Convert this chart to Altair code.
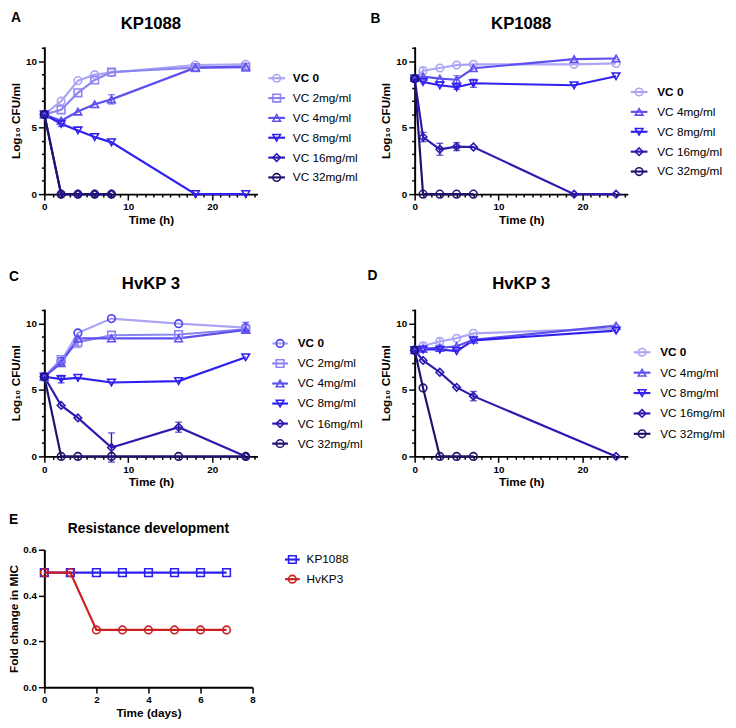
import altair as alt
import pandas as pd

FONT = "Liberation Sans"

# ---------------- series names / styles ----------------
SER6 = ["VC 0", "VC 2mg/ml", "VC 4mg/ml", "VC 8mg/ml", "VC 16mg/ml", "VC 32mg/ml"]
SER5 = ["VC 0", "VC 4mg/ml", "VC 8mg/ml", "VC 16mg/ml", "VC 32mg/ml"]
COL = {"VC 0": "#aba5f5", "VC 2mg/ml": "#8c84f2", "VC 4mg/ml": "#5d50ee",
       "VC 8mg/ml": "#3020f0", "VC 16mg/ml": "#2c1ab0", "VC 32mg/ml": "#1d136e"}
SHP = {"VC 0": "circle", "VC 2mg/ml": "square", "VC 4mg/ml": "triangle-up",
       "VC 8mg/ml": "triangle-down", "VC 16mg/ml": "diamond", "VC 32mg/ml": "circle"}
C_VC0_MARK = "#4a3ef0"

# ---------------- Panel A: KP1088 ----------------
A_time = [0, 2, 4, 6, 8, 18, 24]
A_vc0 = [6.0, 7.0, 8.55, 9.0, 9.15, 9.73, 9.78]
A_vc2 = [6.0, 6.35, 7.63, 8.6, 9.2, 9.53, 9.55]
A_vc4 = [6.0, 5.53, 6.22, 6.77, 7.14, 9.53, 9.6]
A_vc8 = [6.0, 5.3, 4.8, 4.3, 3.9, 0.0, 0.0]
A_vc16 = [6.0, 0.0, 0.0, 0.0, 0.0, None, None]
A_vc32 = [6.0, 0.0, 0.0, 0.0, 0.0, None, None]
A_err = {"VC 4mg/ml": [0, 0, 0, 0, 0.35, 0, 0], "VC 8mg/ml": [0, 0.2, 0, 0, 0, 0, 0]}

# ---------------- Panel B: KP1088 ----------------
B_time = [0, 1, 3, 5, 7, 19, 24]
B_vc0 = [8.7, 9.3, 9.5, 9.72, 9.78, 9.78, 9.85]
B_vc4 = [8.75, 8.85, 8.7, 8.62, 9.48, 10.17, 10.22]
B_vc8 = [8.7, 8.45, 8.2, 8.05, 8.35, 8.2, 8.88]
B_vc16 = [8.7, 4.3, 3.38, 3.58, 3.55, 0.0, 0.0]
B_vc32 = [8.7, 0.0, 0.0, 0.0, 0.0, None, None]
B_err = {"VC 0": [0, 0.25, 0, 0, 0, 0, 0], "VC 4mg/ml": [0, 0, 0, 0.3, 0, 0, 0],
         "VC 8mg/ml": [0, 0, 0, 0.15, 0.3, 0, 0], "VC 16mg/ml": [0, 0.35, 0.45, 0.3, 0, 0, 0]}

# ---------------- Panel C: HvKP 3 ----------------
C_time = [0, 2, 4, 8, 16, 24]
C_vc0 = [6.0, 7.17, 9.3, 10.38, 10.0, 9.7]
C_vc2 = [6.0, 7.3, 8.6, 9.13, 9.18, 9.58]
C_vc4 = [6.0, 7.03, 8.89, 8.89, 8.89, 9.53]
C_vc8 = [6.0, 5.82, 5.92, 5.57, 5.67, 7.47]
C_vc16 = [6.0, 3.84, 2.9, 0.67, 2.2, 0.0]
C_vc32 = [6.0, 0.0, 0.0, 0.0, 0.0, 0.0]
C_err = {"VC 0": [0, 0, 0, 0, 0, 0.4], "VC 2mg/ml": [0, 0, 0.4, 0, 0, 0],
         "VC 8mg/ml": [0, 0.28, 0, 0, 0, 0], "VC 16mg/ml": [0, 0, 0, 1.1, 0.38, 0]}

# ---------------- Panel D: HvKP 3 ----------------
D_time = [0, 1, 3, 5, 7, 24]
D_vc0 = [8.0, 8.32, 8.66, 8.9, 9.27, 9.65]
D_vc4 = [8.0, 8.12, 8.17, 8.3, 8.79, 9.85]
D_vc8 = [8.0, 8.05, 8.05, 7.93, 8.74, 9.48]
D_vc16 = [8.0, 7.23, 6.34, 5.2, 4.54, 0.0]
D_vc32 = [8.0, 5.16, 0.0, 0.0, 0.0, None]
D_err = {"VC 0": [0, 0.25, 0.25, 0, 0, 0], "VC 8mg/ml": [0, 0.2, 0, 0, 0, 0],
         "VC 16mg/ml": [0, 0, 0, 0, 0.35, 0]}

# ---------------- Panel E: resistance development ----------------
E_days = [0, 1, 2, 3, 4, 5, 6, 7]
E_kp1088 = [0.5, 0.5, 0.5, 0.5, 0.5, 0.5, 0.5, 0.5]
E_hvkp3 = [0.5, 0.5, 0.25, 0.25, 0.25, 0.25, 0.25, 0.25]
E_names = ["KP1088", "HvKP3"]
E_cols = ["#2b1ff0", "#cc1f1f"]
E_shapes = ["square", "circle"]

YTITLE = "Log\u2081\u2080 CFU/ml"


def make_df(times, names, values, errs):
    rows = []
    for name, vals in zip(names, values):
        es = errs.get(name, [0] * len(times))
        for t, v, e in zip(times, vals, es):
            if v is None:
                continue
            rows.append(dict(series=name, t=t, v=v, lo=v - e, hi=v + e, e=e))
    return pd.DataFrame(rows)


def make_axis(vals, major, title, fmt=None, tpad=3):
    kw = dict(values=vals, title=title, labelOverlap=False, labelFlush=False,
              grid=False, titlePadding=tpad, labelPadding=2)
    if major is not None:
        kw["labelExpr"] = f"datum.value % {major} === 0 ? datum.label : ''"
        kw["tickSize"] = {"condition": {"test": f"datum.value % {major} === 0", "value": 6}, "value": 3}
    else:
        kw["tickSize"] = 6
    if fmt:
        kw["format"] = fmt
    return alt.Axis(**kw)


def panel(letter, title, df, names, line_cols, mark_cols, shapes, W, H, xdom, ydom,
          xvals, yvals, xmajor, ymajor, xtitle, ytitle, leg_y, leg_x, letter_xy,
          title_y, bold_names, yfmt=None, title_size=17, msize=60, ytpad=3):
    xs = alt.Scale(domain=xdom, nice=False, zero=False)
    ys = alt.Scale(domain=ydom, nice=False, zero=False)
    xaxis = make_axis(xvals, xmajor, xtitle, tpad=3)
    yaxis = make_axis(yvals, ymajor, ytitle, fmt=yfmt, tpad=ytpad)
    X = alt.X("t:Q", scale=xs, axis=xaxis)
    Y = alt.Y("v:Q", scale=ys, axis=yaxis)
    stroke_enc = alt.Stroke("series:N", scale=alt.Scale(domain=names, range=line_cols), legend=None)
    color_enc = alt.Color("series:N", scale=alt.Scale(domain=names, range=mark_cols), legend=None)
    shape_enc = alt.Shape("series:N", scale=alt.Scale(domain=names, range=shapes), legend=None)

    lines = alt.Chart(df).mark_line(strokeWidth=2.2).encode(x=X, y=Y, stroke=stroke_enc, order="t:Q")
    pts = alt.Chart(df).mark_point(filled=False, size=msize, strokeWidth=1.6, opacity=1).encode(
        x=X, y=Y, color=color_enc, shape=shape_enc)
    data_layers = [lines]
    edf = df[df.e > 0]
    if len(edf):
        err = alt.Chart(edf).mark_errorbar(ticks={"size": 7}, thickness=1.4).encode(
            x=X, y=alt.Y("lo:Q", scale=ys, axis=yaxis), y2="hi:Q", color=color_enc)
        data_layers.append(err)
    data_layers.append(pts)

    n = len(names)
    ldf = pd.DataFrame({"series": names, "label": names, "i": list(range(n))})
    LY = alt.Y("i:Q", scale=alt.Scale(domain=[0, n - 1], range=leg_y), axis=None)
    x0, x1, xp, xt = leg_x
    lrule = alt.Chart(ldf).mark_rule(strokeWidth=2.2).encode(
        x=alt.value(x0), x2=alt.value(x1), y=LY, stroke=stroke_enc)
    lpt = alt.Chart(ldf).mark_point(filled=False, size=msize, strokeWidth=1.6, opacity=1).encode(
        x=alt.value(xp), y=LY, color=color_enc, shape=shape_enc)
    leg_layers = [lrule, lpt]
    normal = [s for s in names if s not in bold_names]
    leg_layers.append(alt.Chart(ldf).transform_filter(
        alt.FieldOneOfPredicate(field="series", oneOf=normal)).mark_text(
        align="left", baseline="middle", fontSize=12, font=FONT, color="black").encode(
        x=alt.value(xt), y=LY, text="label:N"))
    if bold_names:
        leg_layers.append(alt.Chart(ldf).transform_filter(
            alt.FieldOneOfPredicate(field="series", oneOf=bold_names)).mark_text(
            align="left", baseline="middle", fontSize=12, fontWeight="bold", font=FONT,
            color="black").encode(x=alt.value(xt), y=LY, text="label:N"))

    ann = alt.Chart(pd.DataFrame({"k": [0]}))
    lx, ly = letter_xy
    leg_layers.append(ann.mark_text(text=letter, align="left", baseline="top", fontSize=14,
                                    fontWeight="bold", font=FONT, color="black").encode(
        x=alt.value(lx), y=alt.value(ly)))
    leg_layers.append(ann.mark_text(text=title, align="center", baseline="alphabetic",
                                    fontSize=title_size, fontWeight="bold", font=FONT,
                                    color="black").encode(
        x=alt.value(W / 2), y=alt.value(title_y)))

    return alt.layer(alt.layer(*data_layers), alt.layer(*leg_layers)).resolve_scale(
        y="independent").properties(width=W, height=H)


W, H = 217, 150
XD, YD = [0, 25.4], [0, 11.1]
XV = list(range(0, 26))
YV = list(range(0, 12))

dfA = make_df(A_time, SER6, [A_vc0, A_vc2, A_vc4, A_vc8, A_vc16, A_vc32], A_err)
dfB = make_df(B_time, SER5, [B_vc0, B_vc4, B_vc8, B_vc16, B_vc32], B_err)
dfC = make_df(C_time, SER6, [C_vc0, C_vc2, C_vc4, C_vc8, C_vc16, C_vc32], C_err)
dfD = make_df(D_time, SER5, [D_vc0, D_vc4, D_vc8, D_vc16, D_vc32], D_err)
dfE = make_df(E_days, E_names, [E_kp1088, E_hvkp3], {})

c6 = [COL[s] for s in SER6]
c5 = [COL[s] for s in SER5]
s6 = [SHP[s] for s in SER6]
s5 = [SHP[s] for s in SER5]
c6C = [C_VC0_MARK] + c6[1:]

pA = panel("A", "KP1088", dfA, SER6, c6, c6, s6, W, H, XD, YD, XV, YV, 10, 5, "Time (h)", YTITLE,
           [32, 133], (228, 245, 236.5, 253), (-34, -36), -18, ["VC 0"])
pB = panel("B", "KP1088", dfB, SER5, c5, c5, s5, W, H, XD, YD, XV, YV, 10, 5, "Time (h)", YTITLE,
           [46, 127], (220, 237, 228.5, 247), (-45, -35), -18, ["VC 0"])
pC = panel("C", "HvKP 3", dfC, SER6, c6, c6C, s6, W, H, XD, YD, XV, YV, 10, 5, "Time (h)", YTITLE,
           [35, 137], (232, 248, 240, 258), (-36, -40), -20, ["VC 0"])
pD = panel("D", "HvKP 3", dfD, SER5, c5, c5, s5, W, H, XD, YD, XV, YV, 10, 5, "Time (h)", YTITLE,
           [44, 127], (223, 240, 231.5, 250), (-48, -41), -20, ["VC 0"])
pE = panel("E", "Resistance development", dfE, E_names, E_cols, E_cols, E_shapes, 212, 140,
           [0, 8], [0, 0.6], [0, 2, 4, 6, 8], [0, 0.2, 0.4, 0.6], None, None,
           "Time (days)", "Fold change in MIC", [10, 30], (245, 260, 252.5, 267), (-36, -37),
           -17, [], yfmt=".1f", title_size=14, ytpad=2)

RES = dict(x="independent", y="independent", color="independent",
           stroke="independent", shape="independent")

grid = alt.concat(pA, pB, pC, pD, columns=2, spacing={"row": 117, "column": 160},
                  bounds="flush").resolve_scale(**RES)

chart = alt.vconcat(grid, pE, spacing=26).resolve_scale(**RES).properties(
    padding={"left": 0, "top": -3, "right": 2, "bottom": 2}
).configure_axis(
    domainColor="black", domainWidth=2, tickColor="black", tickWidth=1.5,
    labelColor="black", labelFont=FONT, labelFontSize=10, labelFontWeight="bold",
    titleColor="black", titleFont=FONT, titleFontSize=12, titleFontWeight="bold", grid=False
).configure_view(stroke=None)

chart.save("out.html", embed_options={"renderer": "svg", "actions": False})
